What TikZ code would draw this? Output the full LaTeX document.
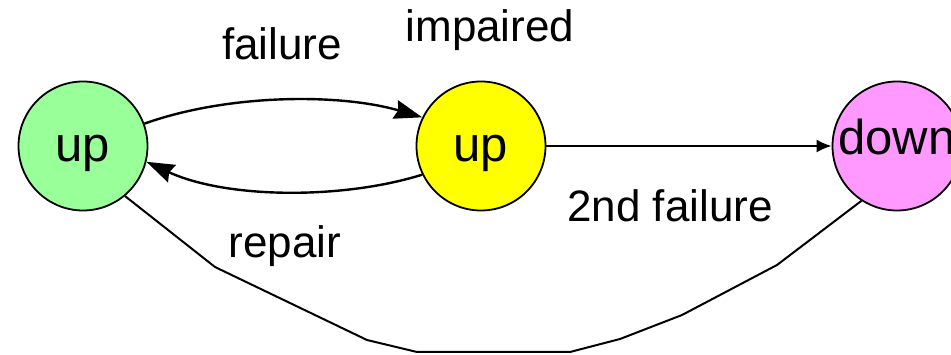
\documentclass[tikz,border=0pt]{standalone}
\usepackage{fontspec}
\setmainfont{Liberation Sans}
\usetikzlibrary{arrows.meta}
\definecolor{stgreen}{HTML}{99FF99}
\definecolor{styellow}{HTML}{FFFF00}
\definecolor{stpink}{HTML}{FF99FF}
\tikzset{
  state/.style={circle, draw=black, line width=1.8pt, minimum size=129pt, inner sep=0pt,
    font=\fontsize{49}{54}\selectfont},
  upstate/.style={state, text height=42pt, text depth=10pt},
  downstate/.style={state, text height=35pt, text depth=17pt},
  lbl/.style={anchor=base, inner sep=0pt, font=\fontsize{44}{50}\selectfont},
  conn/.style={line width=2.4pt, line join=round},
  bigtip/.style={-{Stealth[length=28pt,width=19pt,inset=3pt]}},
  smalltip/.style={-{Latex[length=15pt,width=13pt]}}
}
\begin{document}
\begin{tikzpicture}[x=1pt,y=-1pt]
\useasboundingbox (0,0) rectangle (951,355);
\clip (0,0) rectangle (951,355);
\node[upstate, fill=stgreen] (g) at (83,146) {up};
\node[upstate, fill=styellow] (y) at (481,146) {up};
\node[downstate, fill=stpink] (p) at (897,146) {down};
\node[lbl] (lf) at (282,60) {failure};
\node[lbl] (li) at (490,42) {impaired};
\node[lbl] (l2) at (670,222) {2nd failure};
\node[lbl] (lr) at (285,258) {repair};
\draw[conn, bigtip] (g.20) .. controls +(84,-30) and +(-82,-24) .. (y.154);
\draw[conn, bigtip] (y.206) .. controls +(-80,25) and +(80,37) .. (g.-14);
\draw[line width=2pt, smalltip] (y.east) -- (p.west);
\coordinate (b1) at (215,267);
\coordinate (b2) at (367,340);
\coordinate (b3) at (417,352);
\coordinate (b4) at (570,352);
\coordinate (b5) at (620,339);
\coordinate (b6) at (682,315);
\coordinate (b7) at (777,265);
\draw[line width=2pt, line join=round] (g.-50) -- (b1) -- (b2) -- (b3) -- (b4) -- (b5) -- (b6) -- (b7) -- (p.-123);
\end{tikzpicture}
\end{document}
